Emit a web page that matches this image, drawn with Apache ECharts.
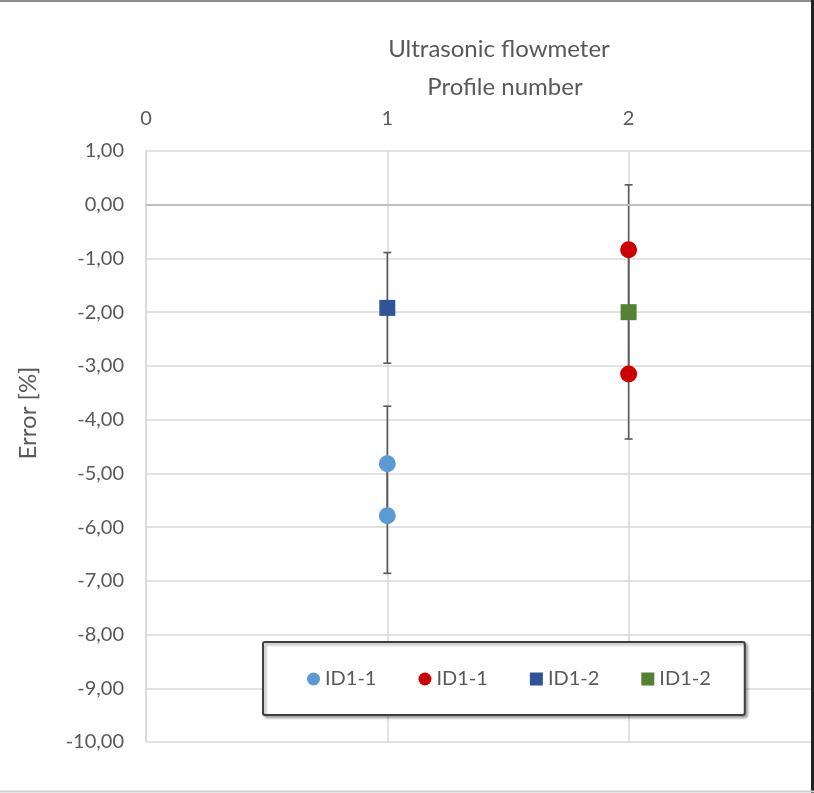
<!DOCTYPE html>
<html>
<head>
<meta charset="utf-8">
<script src="https://cdn.jsdelivr.net/npm/echarts@6/dist/echarts.min.js"></script>
<style>
html,body{margin:0;padding:0;background:#fff;}
#chart{width:814px;height:793px;}
</style>
</head>
<body>
<div id="chart"></div>
<script>
// ---- data ----
var chartTitle = 'Ultrasonic flowmeter';
var xAxisName = 'Profile number';
var yAxisName = 'Error [%]';
var seriesNames = ['ID1-1', 'ID1-1', 'ID1-2', 'ID1-2'];
var s1X = [1, 1];       var s1Y = [-4.82, -5.79]; var s1Err = [1.07, 1.07];
var s2X = [2, 2];       var s2Y = [-0.84, -3.15]; var s2Err = [1.21, 1.21];
var s3X = [1];          var s3Y = [-1.92];        var s3Err = [1.03];
var s4X = [2];          var s4Y = [-2.00];        var s4Err = [1.05];
var yMin = -10, yMax = 1, yStep = 1;
var xMin = 0, xMax = 2.76, xStep = 1;

var FONT = 'Lato';
var TXT = '#595959';

function pts(xs, ys){ return xs.map(function(x,i){ return [x, ys[i]]; }); }
function errs(xs, ys, es){ return xs.map(function(x,i){ return [x, ys[i]-es[i], ys[i]+es[i]]; }); }

var allErr = [].concat(errs(s1X,s1Y,s1Err), errs(s2X,s2Y,s2Err), errs(s3X,s3Y,s3Err), errs(s4X,s4Y,s4Err));

var chart = echarts.init(document.getElementById('chart'), null, {renderer:'canvas'});
var option = {
  backgroundColor: '#ffffff',
  animation: false,
  title: {
    text: chartTitle, left: 494, top: 32, textAlign: 'center',
    textStyle: {fontFamily: FONT, fontSize: 24, fontWeight: 'normal', color: TXT}
  },
  grid: {left: 146, top: 151, right: 2, bottom: 51, containLabel: false},
  xAxis: {
    type: 'value', position: 'top', min: xMin, max: xMax, interval: xStep,
    name: xAxisName, nameLocation: 'middle', nameGap: 52,
    nameTextStyle: {fontFamily: FONT, fontSize: 24, color: TXT, padding: [0,0,0,52]},
    axisLine: {show: false}, axisTick: {show: false},
    axisLabel: {fontFamily: FONT, fontSize: 20, color: TXT, margin: 22, showMaxLabel: false,
      formatter: function(v){ return Math.abs(v - Math.round(v)) < 1e-6 ? String(Math.round(v)) : ''; }},
    splitLine: {show: true, lineStyle: {color: '#D9D9D9', width: 1.5}}
  },
  yAxis: {
    type: 'value', min: yMin, max: yMax, interval: yStep,
    axisLine: {show: true, lineStyle: {color: '#D9D9D9', width: 1.5}}, axisTick: {show: false},
    axisLabel: {fontFamily: FONT, fontSize: 20, color: TXT, margin: 22,
      formatter: function(v){ return v.toFixed(2).replace('.', ','); }},
    splitLine: {show: true, lineStyle: {color: '#D9D9D9', width: 1.5}}
  },
  legend: {
    data: [
      {name: 'ID1-1 a', icon: 'circle'},
      {name: 'ID1-1 b', icon: 'circle'},
      {name: 'ID1-2 a', icon: 'rect'},
      {name: 'ID1-2 b', icon: 'rect'}
    ],
    formatter: function(n){ return n.split(' ')[0]; },
    left: 263, top: 642,
    padding: [27, 34, 26, 44],
    itemGap: 42, itemWidth: 13, itemHeight: 13,
    borderColor: '#404040', borderWidth: 2, borderRadius: 2,
    shadowColor: 'rgba(0,0,0,0.35)', shadowBlur: 3, shadowOffsetX: 2, shadowOffsetY: 2,
    backgroundColor: '#fff',
    textStyle: {fontFamily: FONT, fontSize: 20, color: TXT}
  },
  graphic: [
    {type: 'text', rotation: Math.PI/2, x: 28, y: 413,
      style: {text: yAxisName, font: '24px ' + FONT, fill: TXT, textAlign: 'center', textVerticalAlign: 'middle'}},
    {type: 'line', shape: {x1: 0, y1: 1, x2: 814, y2: 1}, style: {stroke: '#8c8c8c', lineWidth: 2}, z: 100},
    {type: 'line', shape: {x1: 812.5, y1: 0, x2: 812.5, y2: 793}, style: {stroke: '#222', lineWidth: 3}, z: 100},
    {type: 'line', shape: {x1: 0, y1: 791.5, x2: 814, y2: 791.5}, style: {stroke: '#d0d0d0', lineWidth: 2}, z: 100}
  ],
  series: [
    {
      type: 'custom', name: 'err', z: 1, silent: true,
      data: allErr,
      renderItem: function(params, api){
        var x = api.value(0);
        var lo = api.coord([x, api.value(1)]);
        var hi = api.coord([x, api.value(2)]);
        var c = 4;
        var st = {stroke: '#595959', lineWidth: 1.6};
        return {type: 'group', children: [
          {type: 'line', shape: {x1: lo[0], y1: lo[1], x2: hi[0], y2: hi[1]}, style: st},
          {type: 'line', shape: {x1: lo[0]-c, y1: lo[1], x2: lo[0]+c, y2: lo[1]}, style: st},
          {type: 'line', shape: {x1: hi[0]-c, y1: hi[1], x2: hi[0]+c, y2: hi[1]}, style: st}
        ]};
      },
      markLine: {silent: true, symbol: 'none', label: {show: false},
        lineStyle: {color: '#BFBFBF', width: 2, type: 'solid'},
        data: [{yAxis: 0}]}
    },
    {type: 'scatter', name: 'ID1-1 a', z: 3, symbol: 'circle', symbolSize: 17,
      itemStyle: {color: '#5B9BD5', opacity: 1}, data: pts(s1X, s1Y)},
    {type: 'scatter', name: 'ID1-1 b', z: 3, symbol: 'circle', symbolSize: 17,
      itemStyle: {color: '#CC0000', opacity: 1}, data: pts(s2X, s2Y)},
    {type: 'scatter', name: 'ID1-2 a', z: 3, symbol: 'rect', symbolSize: 16,
      itemStyle: {color: '#2F5597', opacity: 1}, data: pts(s3X, s3Y)},
    {type: 'scatter', name: 'ID1-2 b', z: 3, symbol: 'rect', symbolSize: 16,
      itemStyle: {color: '#548235', opacity: 1}, data: pts(s4X, s4Y)}
  ]
};
chart.setOption(option);
</script>
</body>
</html>
